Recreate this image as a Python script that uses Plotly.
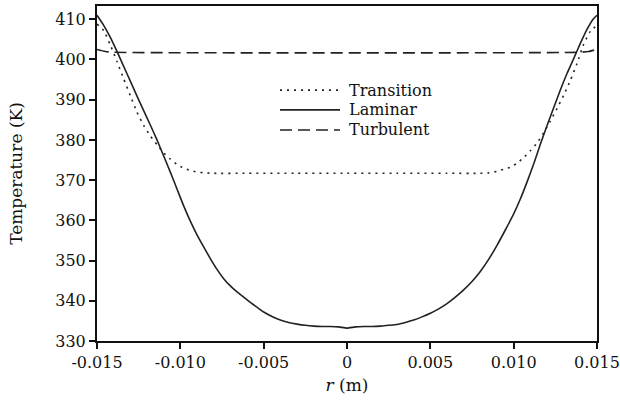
import plotly.graph_objects as go

# Radial temperature profiles across the pipe cross-section
r_lam = [-0.0150, -0.0146, -0.0142, -0.0138, -0.0134, -0.0130, -0.0126, -0.0122, -0.0118,
         -0.0114, -0.0110, -0.0106, -0.0102, -0.0098, -0.0094, -0.0090, -0.0086, -0.0082,
         -0.0078, -0.0074, -0.0070, -0.0066, -0.0062, -0.0058, -0.0054, -0.0050, -0.0045,
         -0.0040, -0.0035, -0.0030, -0.0025, -0.0020, -0.0015, -0.0010, -0.0005, 0.0000,
         0.0005, 0.0010, 0.0015, 0.0020, 0.0025, 0.0030, 0.0035, 0.0040, 0.0045, 0.0050,
         0.0055, 0.0060, 0.0065, 0.0070, 0.0075, 0.0080, 0.0085, 0.0090, 0.0095, 0.0100,
         0.0104, 0.0108, 0.0112, 0.0116, 0.0120, 0.0124, 0.0128, 0.0132, 0.0136, 0.0140,
         0.0144, 0.0148, 0.0150]
T_lam = [411.0, 408.5, 405.5, 402.0, 398.3, 394.6, 390.9, 387.3, 383.7,
         380.0, 376.0, 372.0, 367.8, 363.6, 359.8, 356.4, 353.4, 350.5,
         347.8, 345.5, 343.7, 342.2, 340.9, 339.6, 338.4, 337.2, 336.1,
         335.2, 334.6, 334.2, 333.9, 333.7, 333.6, 333.6, 333.5, 333.2,
         333.5, 333.6, 333.6, 333.7, 333.9, 334.1, 334.6, 335.2, 336.0, 336.9,
         338.0, 339.3, 340.9, 342.7, 344.8, 347.3, 350.3, 353.8, 357.6, 361.6,
         365.3, 369.5, 374.0, 378.9, 383.5, 388.0, 392.4, 396.5, 400.2, 404.0,
         407.5, 410.2, 411.0]

r_tra = [-0.0150, -0.0146, -0.0142, -0.0138, -0.0134, -0.0130, -0.0126, -0.0122, -0.0118,
         -0.0114, -0.0110, -0.0106, -0.0102, -0.0098, -0.0094, -0.0090, -0.0085, -0.0080,
         -0.0060, -0.0030, 0.0000, 0.0030, 0.0060, 0.0080, 0.0085, 0.0090, 0.0094, 0.0098,
         0.0102, 0.0106, 0.0110, 0.0114, 0.0118, 0.0122, 0.0126, 0.0130, 0.0134, 0.0138,
         0.0142, 0.0146, 0.0150]
T_tra = [408.8, 407.2, 403.6, 399.5, 395.2, 391.0, 386.9, 383.6, 381.0,
         378.8, 376.8, 375.2, 373.9, 373.0, 372.4, 372.0, 371.8, 371.7,
         371.7, 371.7, 371.7, 371.7, 371.7, 371.7, 371.8, 372.2, 372.7, 373.2,
         374.2, 375.6, 377.3, 379.2, 381.8, 384.7, 387.8, 391.1, 394.8, 399.0,
         403.8, 407.0, 408.5]

r_tur = [-0.0150, -0.0145, -0.0140, 0.0140, 0.0145, 0.0150]
T_tur = [402.5, 402.0, 401.8, 401.8, 402.0, 402.5]

series_names = ["Transition", "Laminar", "Turbulent"]
dash_styles = ["2px,5px", "solid", "12px,6px"]

x_ticks = [-0.015, -0.010, -0.005, 0, 0.005, 0.010, 0.015]
x_tick_text = ["-0.015", "-0.010", "-0.005", "0", "0.005", "0.010", "0.015"]
y_ticks = [330, 340, 350, 360, 370, 380, 390, 400, 410]

line_color = "#222222"
font_family = "DejaVu Serif"

fig = go.Figure()
for name, xs, ys, dash in zip(series_names, [r_tra, r_lam, r_tur], [T_tra, T_lam, T_tur], dash_styles):
    fig.add_trace(go.Scatter(x=xs, y=ys, mode="lines", name=name,
                             line=dict(color=line_color, width=1.6, dash=dash, shape="spline",
                                       smoothing=0.5),
                             showlegend=False))

# Legend drawn as short line samples with labels inside the plot
legend_y = [0.749, 0.690, 0.630]
shapes = []
annotations = []
for name, dash, yy in zip(series_names, dash_styles, legend_y):
    shapes.append(dict(type="line", xref="paper", yref="paper", x0=0.366, x1=0.486, y0=yy, y1=yy,
                       line=dict(color=line_color, width=1.6, dash=dash)))
    annotations.append(dict(xref="paper", yref="paper", x=0.500, y=yy, text=name, showarrow=False,
                            xanchor="left", yanchor="middle",
                            font=dict(family=font_family, size=16, color="#111")))

fig.update_layout(
    width=620, height=405,
    margin=dict(l=97, r=23, t=6, b=64, autoexpand=False),
    paper_bgcolor="white", plot_bgcolor="white",
    font=dict(family=font_family, size=16, color="#111"),
    shapes=shapes, annotations=annotations,
    showlegend=False,
)
fig.update_xaxes(range=[-0.015, 0.015], tickvals=x_ticks, ticktext=x_tick_text, automargin=False,
                 showgrid=False, zeroline=False, showline=True, linecolor="#111", linewidth=2,
                 mirror=True, ticks="outside", ticklen=6, tickwidth=1.5, tickcolor="#111",
                 title=dict(text="<i>r</i> (m)", standoff=8, font=dict(size=17)))
fig.update_yaxes(range=[330, 413.3], tickvals=y_ticks, automargin=False,
                 showgrid=False, zeroline=False, showline=True, linecolor="#111", linewidth=2,
                 mirror=True, ticks="outside", ticklen=6, tickwidth=1.5, tickcolor="#111",
                 title=dict(text="Temperature (K)", standoff=28, font=dict(size=17)))

fig.write_html("out.html")
